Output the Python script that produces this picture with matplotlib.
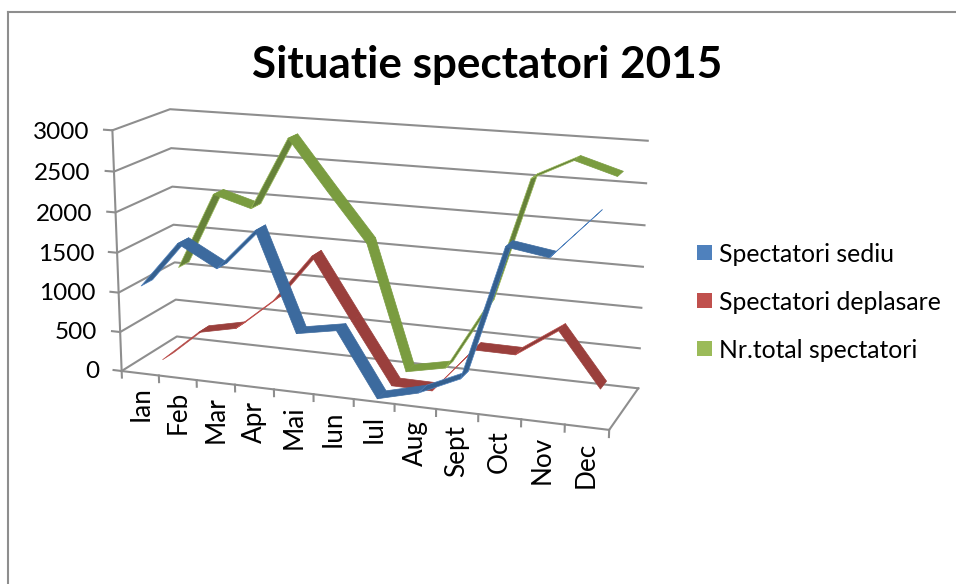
import matplotlib
matplotlib.use('Agg')
import matplotlib.pyplot as plt
from matplotlib.lines import Line2D
from matplotlib.patches import Rectangle
from mpl_toolkits.mplot3d import proj3d
from mpl_toolkits.mplot3d.art3d import Poly3DCollection

plt.rcParams['font.family'] = ['Lato', 'DejaVu Sans']

W, H = 956, 584

months = ['Ian', 'Feb', 'Mar', 'Apr', 'Mai', 'Iun', 'Iul', 'Aug', 'Sept', 'Oct', 'Nov', 'Dec']
sediu = [1090, 1665, 1400, 1910, 700, 790, 10, 140, 370, 1980, 1900, 2420]
deplasare = [0, 410, 515, 920, 1520, 760, 10, 5, 570, 565, 910, 265]
total = [1065, 2050, 1910, 2825, 2205, 1600, 25, 130, 965, 2550, 2800, 2650]
value_ticks = [0, 500, 1000, 1500, 2000, 2500, 3000]

names = ['Spectatori sediu', 'Spectatori deplasare', 'Nr.total spectatori']
legend_colors = ['#4f81bd', '#c0504d', '#9bbb59']
top_colors = ['#3c6a9e', '#9a3f3c', '#7a9c40']
under_colors = ['#35608f', '#8e3b39', '#66823a']
depths = [0.16, 0.49, 0.83]
half_width = 0.1
grid_color = '#8e8e8e'


def px_box(x0, y0, x1, y1):
    return x0 / W, 1 - y1 / H, (x1 - x0) / W, (y1 - y0) / H


def ribbon(ax, values, depth, top, under, edge, zorder):
    for i in range(len(values) - 1):
        x0, x1 = i + 0.5, i + 1.5
        z0, z1 = values[i], values[i + 1]
        quad = [(x0, depth - half_width, z0), (x1, depth - half_width, z1),
                (x1, depth + half_width, z1), (x0, depth + half_width, z0)]
        rising = z1 > z0 + 150
        poly = Poly3DCollection([quad], facecolors=under if rising else top,
                                edgecolors=edge if rising else top, linewidths=0.5)
        poly.set_zorder(zorder)
        ax.add_collection3d(poly, autolim=False)


def label3d(ax, x, y, z, text, size, **kw):
    # 3D text ignores rotation, so project the anchor and use plain text
    X, Y, _ = proj3d.proj_transform(x, y, z, ax.get_proj())
    ax.text2D(X, Y, text, transform=ax.transData, color='black', fontsize=size, **kw)


fig = plt.figure(figsize=(W / 100, H / 100), dpi=100)
s, cx, cy = 568.74, 368.349, 267.348
ax = fig.add_axes(px_box(cx - s / 2, cy - s / 2, cx + s / 2, cy + s / 2), projection='3d')
ax.set_xlim(0, 12, view_margin=0)
ax.set_ylim(0, 1, view_margin=0)
ax.set_zlim(0, 3000, view_margin=0)
ax.view_init(elev=14.769, azim=-69.825, roll=0.045)
ax.set_proj_type('persp', focal_length=0.588)
ax.set_box_aspect((1, 0.25, 0.492))
ax.set_axis_off()
ax.patch.set_visible(False)
ax.computed_zorder = False

# walls and floor
for v in value_ticks:
    ax.plot([-0.22, 0, 0, 12], [0, 0, 1, 1], [v, v, v, v], color=grid_color, lw=1.5, zorder=1, clip_on=False)
    label3d(ax, -0.62, 0, v - 45, str(v), 17.5, ha='right', va='center')
ax.plot([0, 0], [0, 0], [0, 3000], color=grid_color, lw=1.5, zorder=1)
ax.plot([0, 12, 12], [0, 0, 1], [0, 0, 0], color=grid_color, lw=1.5, zorder=1)
for k in range(13):
    ax.plot([k, k], [0, 0], [0, -85], color=grid_color, lw=1.5, zorder=1)
for i, m in enumerate(months):
    label3d(ax, i + 0.5, 0, -170, m, 18.8, rotation=90, ha='center', va='top')

ribbon(ax, total, depths[2], top_colors[2], under_colors[2], legend_colors[2], 2)
ribbon(ax, deplasare, depths[1], top_colors[1], under_colors[1], legend_colors[1], 3)
ribbon(ax, sediu, depths[0], top_colors[0], under_colors[0], legend_colors[0], 4)

# chart frame
fig.add_artist(Line2D([8 / W, 8 / W], [0, 1 - 12 / H], color=grid_color, lw=1.5))
fig.add_artist(Line2D([8 / W, 1], [1 - 12 / H, 1 - 12 / H], color=grid_color, lw=1.5))

fig.text(487 / W, 1 - 65 / H, 'Situatie spectatori 2015', ha='center', va='center',
         fontsize=31.7, fontweight='bold', color='black')

for name, color, y in zip(names, legend_colors, [252, 300, 348]):
    fig.add_artist(Rectangle((697 / W, 1 - (y + 8) / H), 15 / W, 15 / H,
                             transform=fig.transFigure, facecolor=color, edgecolor='none'))
    fig.text(719 / W, 1 - (y + 2) / H, name, ha='left', va='center', fontsize=17.8, color='black')

fig.savefig('out.png', dpi=100)
